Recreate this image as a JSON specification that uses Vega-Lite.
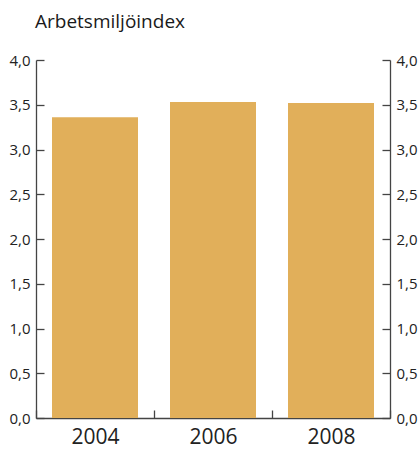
{
  "$schema": "https://vega.github.io/schema/vega-lite/v6.json",
  "autosize": "none",
  "width": 354,
  "height": 358,
  "padding": {"left": 36, "top": 60, "right": 30, "bottom": 32},
  "background": "white",
  "title": {"text": "Arbetsmiljöindex", "anchor": "start", "frame": "group", "font": "Open Sans", "fontSize": 19, "fontWeight": "normal", "color": "#1a1a1a", "offset": 21, "dx": -1},
  "data": {"values": [
    {"year": "2004", "value": 3.36},
    {"year": "2006", "value": 3.53},
    {"year": "2008", "value": 3.52}
  ]},
  "config": {
    "view": {"stroke": null},
    "axis": {"grid": false, "domainColor": "#444", "tickColor": "#444", "domainWidth": 1.3, "tickWidth": 1.3, "labelFont": "Open Sans", "labelColor": "#222"}
  },
  "encoding": {
    "x": {"field": "year", "type": "nominal", "scale": {"paddingInner": 0, "paddingOuter": 0},
      "axis": {"title": null, "labelAngle": 0, "labelFontSize": 21, "tickBand": "extent", "tickSize": -8, "labelPadding": 16}}
  },
  "layer": [
    {
      "mark": {"type": "bar", "color": "#E1AF5A", "size": 86},
      "encoding": {
        "y": {"field": "value", "type": "quantitative", "scale": {"domain": [0, 4]},
          "axis": {"orient": "left", "title": null, "values": [0, 0.5, 1, 1.5, 2, 2.5, 3, 3.5, 4], "tickSize": -8, "labelPadding": 14, "labelFontSize": 15,
            "labelExpr": "replace(format(datum.value, '.1f'), '.', ',')"}}
      }
    },
    {
      "mark": {"type": "bar", "opacity": 0, "size": 86},
      "encoding": {
        "y": {"field": "value", "type": "quantitative", "scale": {"domain": [0, 4]},
          "axis": {"orient": "right", "title": null, "values": [0, 0.5, 1, 1.5, 2, 2.5, 3, 3.5, 4], "tickSize": -8, "labelPadding": 14, "labelFontSize": 15,
            "labelExpr": "replace(format(datum.value, '.1f'), '.', ',')"}}
      }
    }
  ],
  "resolve": {"axis": {"y": "independent"}}
}
